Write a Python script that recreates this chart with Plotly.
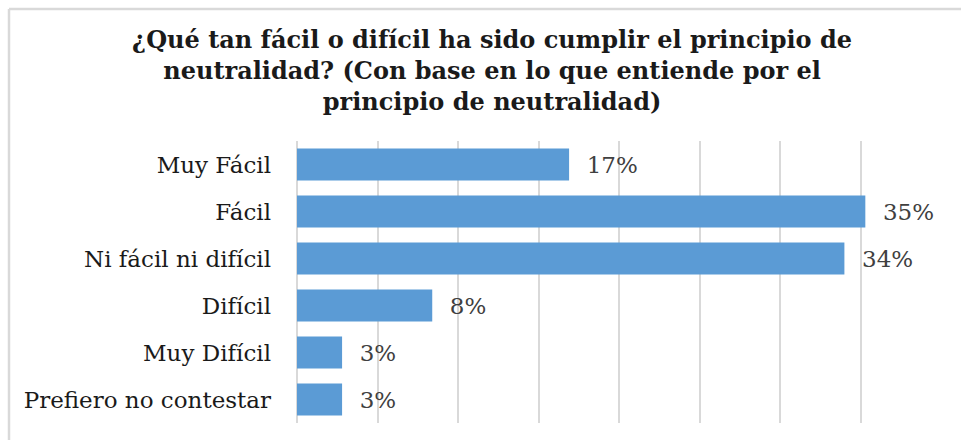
import plotly.graph_objects as go

categories = ["Muy Fácil", "Fácil", "Ni fácil ni difícil", "Difícil", "Muy Difícil", "Prefiero no contestar"]
shares = [0.169, 0.353, 0.340, 0.084, 0.028, 0.028]
title_text = ("¿Qué tan fácil o difícil ha sido cumplir el principio de<br>"
              "neutralidad? (Con base en lo que entiende por el<br>"
              "principio de neutralidad)")

W, H = 961, 440
L, R, T, B = 297, 20, 141, 17
SERIF = "DejaVu Serif"
GRID = "#d9d9d9"

fig = go.Figure(go.Bar(
    x=shares, y=categories, orientation="h",
    marker=dict(color="#5b9bd5", line=dict(width=0)),
    texttemplate="\u00a0\u00a0%{x:.0%}", textposition="outside",
    textfont=dict(family=SERIF, size=23, color="#404040"),
    cliponaxis=False, hoverinfo="skip",
))

# chart frame (left and top edges visible in the reference)
pw, ph = W - L - R, H - T - B
fx = (9 - L) / pw
fy = (H - B - 9) / ph
fig.add_shape(type="line", xref="paper", yref="paper", x0=fx, x1=fx, y0=-0.2, y1=fy,
              line=dict(color=GRID, width=2.5))
fig.add_shape(type="line", xref="paper", yref="paper", x0=fx, x1=1.2, y0=fy, y1=fy,
              line=dict(color=GRID, width=2.5))

fig.update_layout(
    width=W, height=H,
    margin=dict(l=L, r=R, t=T, b=B),
    paper_bgcolor="white", plot_bgcolor="white",
    bargap=0.32, showlegend=False,
    title=dict(text=title_text, x=0.512, xanchor="center", xref="container",
               y=1 - 48 / H, yanchor="top", yref="container",
               font=dict(family=SERIF, size=24, color="#1a1a1a", weight="bold")),
    xaxis=dict(range=[0, 0.40], dtick=0.05, showticklabels=False, showgrid=True,
               gridcolor=GRID, gridwidth=1.5, zeroline=True, zerolinecolor=GRID,
               zerolinewidth=1.5, fixedrange=True),
    yaxis=dict(autorange="reversed", showgrid=False, ticks="", ticklabelstandoff=25,
               tickfont=dict(family=SERIF, size=23, color="#1a1a1a"), fixedrange=True),
)

# the page body has a default 8px margin; drop it so the figure sits at the window origin
fig.write_html("out.html", config={"displayModeBar": False},
               post_script="document.body.style.margin='0';")
